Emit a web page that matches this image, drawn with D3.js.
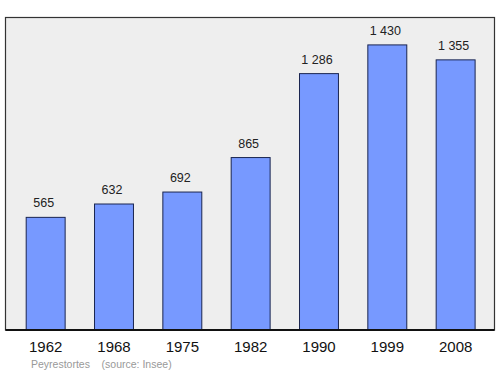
<!DOCTYPE html>
<html><head><meta charset="utf-8">
<script src="https://cdn.jsdelivr.net/npm/d3@7"></script>
<style>body{margin:0;background:#fff}svg{display:block}</style>
</head><body>
<svg id="c" width="500" height="374"></svg>
<script>
const years = ["1962","1968","1975","1982","1990","1999","2008"];
const population = [565, 632, 692, 865, 1286, 1430, 1355];
const valueLabels = ["565","632","692","865","1 286","1 430","1 355"];
const sourceText = "Peyrestortes    (source: Insee)";

const svg = d3.select("#c");
const frame = {x0: 5.5, y0: 17.5, x1: 494.5, y1: 330};
svg.append("rect").attr("x", frame.x0).attr("y", frame.y0)
  .attr("width", frame.x1 - frame.x0).attr("height", frame.y1 - frame.y0)
  .attr("fill", "#eeeeee").attr("stroke", "#333").attr("stroke-width", 1.2);

const x = d3.scaleBand().domain(years).range([11.5, 489.8]).paddingInner(0.43).paddingOuter(0.215);
const y = d3.scaleLinear().domain([0, 1570]).range([330, 17]);

svg.selectAll("rect.bar").data(population).join("rect").attr("class","bar")
  .attr("x", (d,i) => x(years[i]))
  .attr("y", d => y(d))
  .attr("width", x.bandwidth())
  .attr("height", d => y(0) - y(d))
  .attr("fill", "#7799ff").attr("stroke", "#1a2550").attr("stroke-width", 1);

svg.selectAll("text.val").data(population).join("text").attr("class","val")
  .attr("x", (d,i) => x(years[i]) + x.bandwidth()/2 - 2)
  .attr("y", d => y(d) - 10)
  .attr("text-anchor", "middle")
  .attr("font-family", "Liberation Sans, Arial, sans-serif").attr("font-size", 12.5)
  .attr("fill", "#222")
  .text((d,i) => valueLabels[i]);

svg.append("line").attr("x1", frame.x0).attr("x2", frame.x1).attr("y1", 330).attr("y2", 330)
  .attr("stroke", "#111").attr("stroke-width", 1.8);

const xAxis = d3.axisBottom(x).tickSize(0).tickPadding(11);
const ax = svg.append("g").attr("transform", "translate(0,330)").call(xAxis);
ax.select(".domain").remove();
ax.selectAll("text").attr("font-family", "Liberation Sans, Arial, sans-serif").attr("font-size", 15).attr("fill", "#111");

svg.append("text").attr("x", 31).attr("y", 368)
  .attr("font-family", "Liberation Sans, Arial, sans-serif").attr("font-size", 10.5)
  .attr("fill", "#999").attr("xml:space","preserve").style("white-space","pre")
  .text(sourceText);
</script>
</body></html>
